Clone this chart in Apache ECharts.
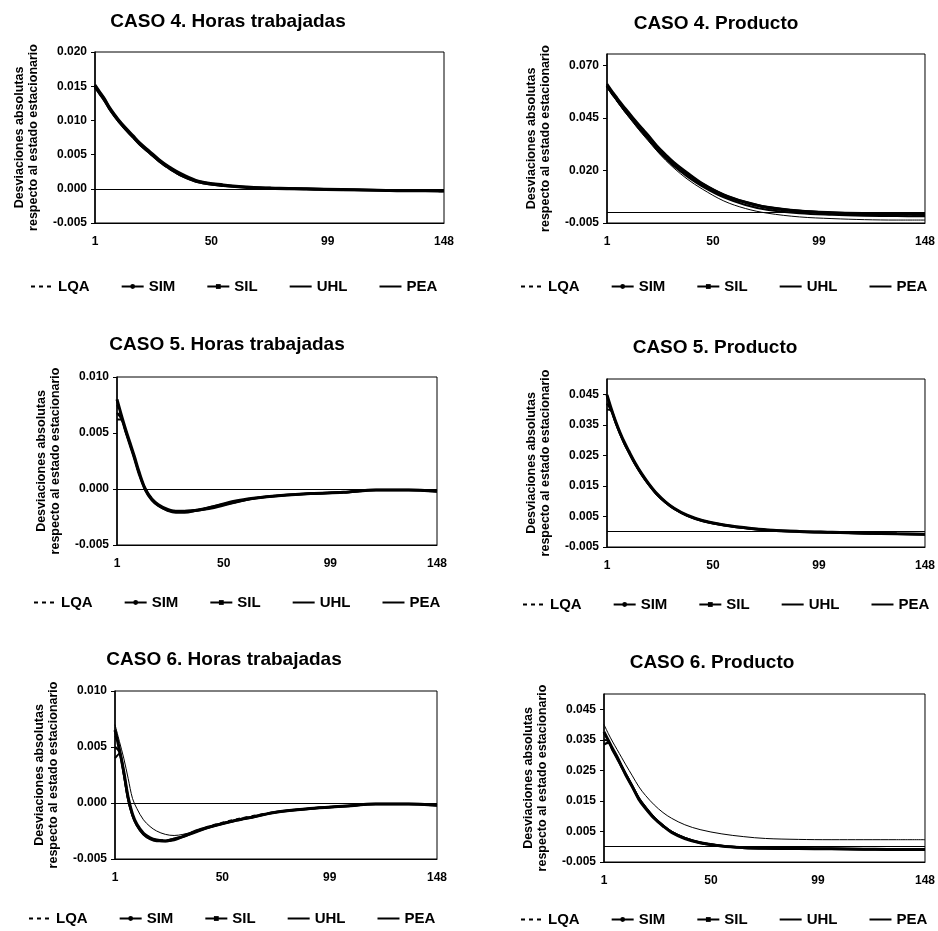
<!DOCTYPE html>
<html>
<head>
<meta charset="utf-8">
<title>Casos 4-6</title>
<script src="https://cdn.jsdelivr.net/npm/echarts@6/dist/echarts.min.js"></script>
<style>
  html, body { margin: 0; padding: 0; background: #fff; }
  #chart { width: 938px; height: 931px; }
</style>
</head>
<body>
<div id="chart"></div>
<script>
const periods = [1, 3, 5, 7, 9, 11, 14, 17, 20, 24, 28, 32, 38, 45, 55, 65, 75, 90, 105, 120, 135, 148]
const methods = ['LQA', 'SIM', 'SIL', 'UHL', 'PEA']

// CASO 4. Horas trabajadas
const c4hLQA = [0.0149, 0.0139, 0.0129, 0.0117, 0.0107, 0.0098, 0.0086, 0.0075, 0.0064, 0.0052, 0.0040, 0.0030, 0.0018, 0.0010, 0.0005, 0.0002, 0.0001, 0.0000, -0.0001, -0.0002, -0.0003, -0.0004]
const c4hSIM = [0.0152, 0.0142, 0.0132, 0.0120, 0.0110, 0.0101, 0.0089, 0.0078, 0.0067, 0.0055, 0.0043, 0.0033, 0.0021, 0.0011, 0.0006, 0.0003, 0.0001, 0.0000, -0.0001, -0.0002, -0.0002, -0.0003]
const c4hSIL = [0.0148, 0.0138, 0.0128, 0.0117, 0.0107, 0.0098, 0.0086, 0.0075, 0.0064, 0.0052, 0.0040, 0.0030, 0.0018, 0.0009, 0.0004, 0.0002, 0.0000, -0.0001, -0.0002, -0.0002, -0.0003, -0.0004]
const c4hUHL = [0.0151, 0.0141, 0.0131, 0.0119, 0.0109, 0.0100, 0.0088, 0.0077, 0.0066, 0.0054, 0.0042, 0.0032, 0.0020, 0.0011, 0.0005, 0.0002, 0.0001, 0.0000, -0.0001, -0.0002, -0.0003, -0.0003]
const c4hPEA = [0.0150, 0.0140, 0.0130, 0.0118, 0.0108, 0.0099, 0.0087, 0.0076, 0.0065, 0.0053, 0.0041, 0.0031, 0.0019, 0.0010, 0.0005, 0.0002, 0.0001, 0.0000, -0.0001, -0.0002, -0.0003, -0.0003]

// CASO 4. Producto
const c4pLQA = [0.0598, 0.0568, 0.0541, 0.0513, 0.0487, 0.0463, 0.0425, 0.0389, 0.0355, 0.0306, 0.0264, 0.0227, 0.0181, 0.0131, 0.0079, 0.0045, 0.0021, 0.0004, -0.0004, -0.0008, -0.0010, -0.0011]
const c4pSIM = [0.0612, 0.0582, 0.0555, 0.0527, 0.0501, 0.0477, 0.0439, 0.0403, 0.0369, 0.0319, 0.0277, 0.0238, 0.0190, 0.0139, 0.0085, 0.0050, 0.0026, 0.0008, 0.0000, -0.0004, -0.0006, -0.0007]
const c4pSIL = [0.0600, 0.0570, 0.0542, 0.0514, 0.0487, 0.0462, 0.0423, 0.0385, 0.0350, 0.0300, 0.0258, 0.0220, 0.0172, 0.0125, 0.0072, 0.0036, 0.0013, -0.0004, -0.0011, -0.0015, -0.0017, -0.0018]
const c4pUHL = [0.0598, 0.0567, 0.0538, 0.0509, 0.0481, 0.0455, 0.0416, 0.0378, 0.0342, 0.0294, 0.0250, 0.0211, 0.0160, 0.0112, 0.0055, 0.0019, -0.0003, -0.0021, -0.0029, -0.0034, -0.0036, -0.0036]
const c4pPEA = [0.0605, 0.0575, 0.0548, 0.0520, 0.0494, 0.0470, 0.0432, 0.0396, 0.0362, 0.0312, 0.0270, 0.0232, 0.0185, 0.0135, 0.0082, 0.0048, 0.0024, 0.0006, -0.0002, -0.0006, -0.0008, -0.0009]

// CASO 5. Horas trabajadas
const c5hLQA = [0.0075, 0.0064, 0.0052, 0.0040, 0.0028, 0.0015, 0.0000, -0.0009, -0.0014, -0.0018, -0.0020, -0.0020, -0.0019, -0.0016, -0.0011, -0.0008, -0.0006, -0.0004, -0.0003, -0.0001, -0.0001, -0.0002]
const c5hSIM = [0.0068, 0.0063, 0.0051, 0.0039, 0.0027, 0.0014, -0.0001, -0.0010, -0.0015, -0.0019, -0.0021, -0.0021, -0.0019, -0.0017, -0.0012, -0.0008, -0.0006, -0.0004, -0.0003, -0.0001, -0.0001, -0.0002]
const c5hSIL = [0.0062, 0.0062, 0.0051, 0.0040, 0.0028, 0.0015, 0.0000, -0.0009, -0.0015, -0.0019, -0.0020, -0.0020, -0.0019, -0.0016, -0.0012, -0.0008, -0.0006, -0.0004, -0.0003, -0.0001, -0.0001, -0.0002]
const c5hUHL = [0.0078, 0.0065, 0.0053, 0.0041, 0.0029, 0.0016, 0.0001, -0.0008, -0.0014, -0.0018, -0.0019, -0.0019, -0.0018, -0.0015, -0.0011, -0.0008, -0.0006, -0.0004, -0.0003, -0.0001, -0.0001, -0.0002]
const c5hPEA = [0.0080, 0.0066, 0.0053, 0.0041, 0.0029, 0.0016, 0.0000, -0.0009, -0.0014, -0.0018, -0.0020, -0.0020, -0.0019, -0.0016, -0.0011, -0.0008, -0.0006, -0.0004, -0.0003, -0.0001, -0.0001, -0.0002]

// CASO 5. Producto
const c5pLQA = [0.0440, 0.0400, 0.0360, 0.0324, 0.0292, 0.0264, 0.0224, 0.0189, 0.0159, 0.0124, 0.0097, 0.0076, 0.0054, 0.0037, 0.0022, 0.0012, 0.0006, 0.0001, -0.0002, -0.0005, -0.0007, -0.0008]
const c5pSIM = [0.0420, 0.0398, 0.0358, 0.0322, 0.0290, 0.0262, 0.0222, 0.0188, 0.0158, 0.0123, 0.0097, 0.0076, 0.0053, 0.0036, 0.0022, 0.0012, 0.0006, 0.0001, -0.0002, -0.0005, -0.0007, -0.0008]
const c5pSIL = [0.0400, 0.0396, 0.0357, 0.0321, 0.0289, 0.0261, 0.0221, 0.0187, 0.0157, 0.0122, 0.0096, 0.0075, 0.0053, 0.0036, 0.0021, 0.0012, 0.0005, 0.0000, -0.0003, -0.0005, -0.0007, -0.0009]
const c5pUHL = [0.0446, 0.0403, 0.0363, 0.0327, 0.0295, 0.0267, 0.0227, 0.0192, 0.0162, 0.0127, 0.0100, 0.0078, 0.0055, 0.0038, 0.0023, 0.0013, 0.0006, 0.0001, -0.0002, -0.0004, -0.0006, -0.0007]
const c5pPEA = [0.0448, 0.0402, 0.0361, 0.0325, 0.0293, 0.0265, 0.0225, 0.0190, 0.0160, 0.0125, 0.0098, 0.0077, 0.0054, 0.0037, 0.0022, 0.0013, 0.0006, 0.0001, -0.0002, -0.0005, -0.0007, -0.0008]

// CASO 6. Horas trabajadas
const c6hLQA = [0.0060, 0.0047, 0.0028, 0.0005, -0.0010, -0.0019, -0.0027, -0.0031, -0.0033, -0.0033, -0.0032, -0.0029, -0.0025, -0.0020, -0.0015, -0.0011, -0.0008, -0.0005, -0.0003, -0.0001, -0.0001, -0.0002]
const c6hSIM = [0.0050, 0.0046, 0.0027, 0.0004, -0.0011, -0.0020, -0.0028, -0.0032, -0.0034, -0.0034, -0.0033, -0.0030, -0.0026, -0.0021, -0.0016, -0.0012, -0.0008, -0.0005, -0.0003, -0.0001, -0.0001, -0.0002]
const c6hSIL = [0.0040, 0.0044, 0.0026, 0.0003, -0.0011, -0.0020, -0.0028, -0.0032, -0.0033, -0.0034, -0.0032, -0.0030, -0.0025, -0.0021, -0.0016, -0.0012, -0.0008, -0.0005, -0.0003, -0.0001, -0.0001, -0.0002]
const c6hUHL = [0.0070, 0.0055, 0.0040, 0.0022, 0.0004, -0.0005, -0.0015, -0.0021, -0.0025, -0.0028, -0.0029, -0.0028, -0.0025, -0.0021, -0.0016, -0.0012, -0.0008, -0.0005, -0.0003, -0.0001, -0.0001, -0.0002]
const c6hPEA = [0.0065, 0.0048, 0.0028, 0.0005, -0.0010, -0.0019, -0.0027, -0.0031, -0.0033, -0.0034, -0.0032, -0.0030, -0.0025, -0.0021, -0.0016, -0.0012, -0.0008, -0.0005, -0.0003, -0.0001, -0.0001, -0.0002]

// CASO 6. Producto
const c6pLQA = [0.0370, 0.0346, 0.0319, 0.0293, 0.0266, 0.0238, 0.0198, 0.0158, 0.0129, 0.0095, 0.0069, 0.0048, 0.0028, 0.0013, 0.0002, -0.0003, -0.0005, -0.0006, -0.0007, -0.0008, -0.0009, -0.0010]
const c6pSIM = [0.0335, 0.0340, 0.0315, 0.0289, 0.0263, 0.0236, 0.0197, 0.0157, 0.0128, 0.0094, 0.0069, 0.0048, 0.0028, 0.0013, 0.0002, -0.0003, -0.0005, -0.0006, -0.0007, -0.0008, -0.0009, -0.0010]
const c6pSIL = [0.0350, 0.0345, 0.0318, 0.0292, 0.0265, 0.0238, 0.0199, 0.0159, 0.0130, 0.0096, 0.0070, 0.0049, 0.0029, 0.0014, 0.0003, -0.0002, -0.0005, -0.0006, -0.0007, -0.0008, -0.0009, -0.0009]
const c6pUHL = [0.0400, 0.0370, 0.0343, 0.0318, 0.0293, 0.0268, 0.0232, 0.0196, 0.0168, 0.0137, 0.0112, 0.0093, 0.0072, 0.0056, 0.0042, 0.0033, 0.0027, 0.0024, 0.0023, 0.0023, 0.0023, 0.0023]
const c6pPEA = [0.0376, 0.0348, 0.0320, 0.0294, 0.0264, 0.0235, 0.0196, 0.0155, 0.0126, 0.0093, 0.0068, 0.0047, 0.0027, 0.0013, 0.0002, -0.0003, -0.0005, -0.0006, -0.0007, -0.0008, -0.0009, -0.0009]

// y axes: range, tick step, and whether the top of the frame carries a label
const yMins = [-0.005, -0.005, -0.005, -0.005, -0.005, -0.005]
const yMaxs = [0.020, 0.0755, 0.010, 0.050, 0.010, 0.050]
const ySteps = [0.005, 0.025, 0.005, 0.010, 0.005, 0.010]
const yTopLabel = [true, false, true, false, true, false]

const titles = ['CASO 4. Horas trabajadas', 'CASO 4. Producto', 'CASO 5. Horas trabajadas',
  'CASO 5. Producto', 'CASO 6. Horas trabajadas', 'CASO 6. Producto']
const yName = 'Desviaciones absolutas\nrespecto al estado estacionario'

const panels = [
  [c4hLQA, c4hSIM, c4hSIL, c4hUHL, c4hPEA],
  [c4pLQA, c4pSIM, c4pSIL, c4pUHL, c4pPEA],
  [c5hLQA, c5hSIM, c5hSIL, c5hUHL, c5hPEA],
  [c5pLQA, c5pSIM, c5pSIL, c5pUHL, c5pPEA],
  [c6hLQA, c6hSIM, c6hSIL, c6hUHL, c6hPEA],
  [c6pLQA, c6pSIM, c6pSIL, c6pUHL, c6pPEA]
]

// layout of the six plots
const grids = [
  { left: 95, top: 52, width: 349, height: 171 },
  { left: 607, top: 54, width: 324, height: 169 },
  { left: 117, top: 377, width: 320, height: 168 },
  { left: 607, top: 379, width: 321, height: 168 },
  { left: 115, top: 691, width: 322, height: 168 },
  { left: 604, top: 694, width: 321, height: 168 }
]
const titlePos = [[228, 12], [716, 14], [227, 335], [715, 338], [224, 650], [712, 653]]
const legendPos = [[30, 279], [520, 279], [33, 595], [522, 597], [28, 911], [520, 912]]

const FONT = 'Liberation Sans, Arial, sans-serif'

const lineStyles = {
  LQA: { color: '#000', width: 1.5, type: [4, 4] },
  SIM: { color: '#000', width: 2.5 },
  SIL: { color: '#000', width: 2 },
  UHL: { color: '#000', width: 1 },
  PEA: { color: '#000', width: 3 }
}
const symbols = { LQA: 'none', SIM: 'circle', SIL: 'rect', UHL: 'none', PEA: 'none' }

const series = []
panels.forEach((set, p) => {
  set.forEach((vals, k) => {
    const name = methods[k]
    const s = {
      name: name,
      type: 'line',
      xAxisIndex: p,
      yAxisIndex: p,
      data: periods.map((t, i) => [t, vals[i]]),
      smooth: 0.35,
      symbol: symbols[name] === 'none' ? 'circle' : symbols[name],
      showSymbol: false,
      itemStyle: { color: '#000' },
      lineStyle: lineStyles[name],
      emphasis: { disabled: true }
    }
    if (name === 'PEA') {
      s.markLine = {
        silent: true,
        symbol: ['none', 'none'],
        label: { show: false },
        lineStyle: { color: '#000', width: 1, type: 'solid' },
        data: [{ yAxis: 0 }]
      }
    }
    series.push(s)
  })
})

const hidden = { color: 'rgba(0,0,0,0)', borderWidth: 0 }
const legendData = [
  { name: 'LQA', itemStyle: hidden },
  { name: 'SIM' },
  { name: 'SIL' },
  { name: 'UHL', itemStyle: hidden },
  { name: 'PEA', itemStyle: hidden }
]

const chart = echarts.init(document.getElementById('chart'))
chart.setOption({
  animation: false,
  backgroundColor: '#fff',
  title: titles.map((t, i) => ({
    text: t,
    left: titlePos[i][0],
    top: titlePos[i][1],
    textAlign: 'center',
    padding: 0,
    textStyle: { fontFamily: FONT, fontSize: 19, fontWeight: 'bold', color: '#000' }
  })),
  legend: legendPos.map(pos => ({
    left: pos[0],
    top: pos[1],
    padding: 0,
    itemWidth: 22,
    itemHeight: 6,
    itemGap: 31,
    selectedMode: false,
    textStyle: { fontFamily: FONT, fontSize: 15, fontWeight: 'bold', color: '#000' },
    data: legendData
  })),
  grid: grids.map(g => Object.assign({ show: true, borderColor: '#000', borderWidth: 1, backgroundColor: '#fff' }, g)),
  xAxis: grids.map((g, i) => ({
    type: 'value',
    gridIndex: i,
    min: 1,
    max: 148,
    interval: 49,
    axisLine: { onZero: false, lineStyle: { color: '#000', width: 1 } },
    axisTick: { show: false },
    splitLine: { show: false },
    axisLabel: { margin: 13, fontFamily: FONT, fontSize: 12, fontWeight: 'bold', color: '#000' }
  })),
  yAxis: grids.map((g, i) => ({
    type: 'value',
    gridIndex: i,
    min: yMins[i],
    max: yMaxs[i],
    interval: ySteps[i],
    name: yName,
    nameLocation: 'middle',
    nameRotate: 90,
    nameGap: 54,
    nameTextStyle: { fontFamily: FONT, fontSize: 12.5, fontWeight: 'bold', color: '#000', lineHeight: 14 },
    axisLine: { show: true, lineStyle: { color: '#000', width: 1.5 } },
    axisTick: { show: true, length: 4, lineStyle: { color: '#000' } },
    splitLine: { show: false },
    axisLabel: {
      margin: 8,
      showMaxLabel: yTopLabel[i],
      fontFamily: FONT,
      fontSize: 12,
      fontWeight: 'bold',
      color: '#000',
      formatter: v => v.toFixed(3)
    }
  })),
  series: series
})
</script>
</body>
</html>
